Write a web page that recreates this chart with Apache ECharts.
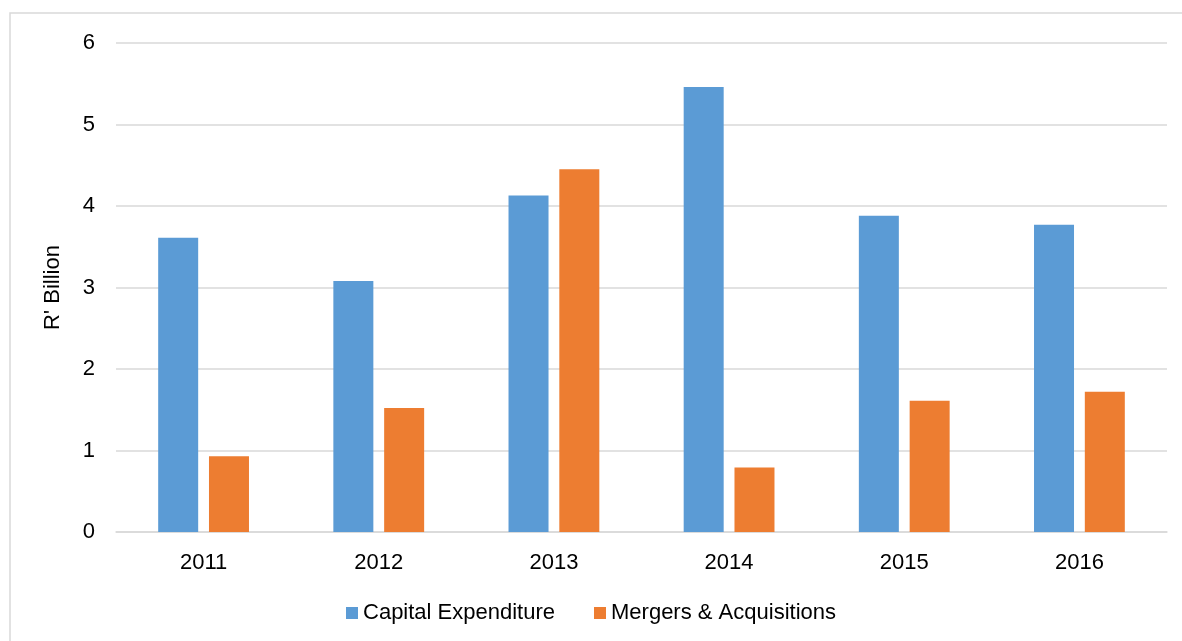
<!DOCTYPE html>
<html>
<head>
<meta charset="utf-8">
<script src="https://cdn.jsdelivr.net/npm/echarts@6/dist/echarts.min.js"></script>
<style>
html,body{margin:0;padding:0;background:#fff;}
#chart{width:1182px;height:641px;}
</style>
</head>
<body>
<div id="chart"></div>
<script>
const categories = ['2011', '2012', '2013', '2014', '2015', '2016'];
const capex = [3.61, 3.08, 4.13, 5.46, 3.88, 3.77];
const mergers = [0.93, 1.52, 4.45, 0.79, 1.61, 1.72];
const seriesNames = ['Capital Expenditure', 'Mergers & Acquisitions'];
const yAxisName = "R' Billion";

const chart = echarts.init(document.getElementById('chart'), null, {renderer: 'canvas'});
const font = '"Liberation Sans", Arial, sans-serif';
chart.setOption({
  animation: false,
  backgroundColor: '#fff',
  graphic: [{
    type: 'rect',
    shape: {x: 10, y: 13, width: 1200, height: 700},
    style: {fill: 'none', stroke: '#D9D9D9', lineWidth: 1.5},
    silent: true
  }],
  grid: {left: 116, right: 15, top: 43, bottom: 109, containLabel: false},
  legend: {
    bottom: 12,
    left: 'center',
    itemWidth: 12,
    itemHeight: 12,
    itemGap: 39,
    icon: 'rect',
    textStyle: {fontFamily: font, fontSize: 22, color: '#000'},
    data: seriesNames
  },
  xAxis: {
    type: 'category',
    data: categories,
    axisLine: {show: true, lineStyle: {color: '#D9D9D9', width: 1.5}},
    axisTick: {show: false},
    axisLabel: {fontFamily: font, fontSize: 22, color: '#000', margin: 20}
  },
  yAxis: {
    type: 'value',
    min: 0,
    max: 6,
    interval: 1,
    name: yAxisName,
    nameLocation: 'middle',
    nameGap: 52,
    nameRotate: 90,
    nameTextStyle: {fontFamily: font, fontSize: 22, color: '#000'},
    axisLine: {show: false},
    axisTick: {show: false},
    axisLabel: {fontFamily: font, fontSize: 22, color: '#000', margin: 21},
    splitLine: {lineStyle: {color: '#D9D9D9', width: 1.5}}
  },
  series: [
    {
      name: seriesNames[0],
      type: 'bar',
      data: capex,
      barWidth: 40,
      barGap: '27%',
      itemStyle: {color: '#5B9BD5'}
    },
    {
      name: seriesNames[1],
      type: 'bar',
      data: mergers,
      barWidth: 40,
      barGap: '27%',
      itemStyle: {color: '#ED7D31'}
    }
  ]
});
</script>
</body>
</html>
